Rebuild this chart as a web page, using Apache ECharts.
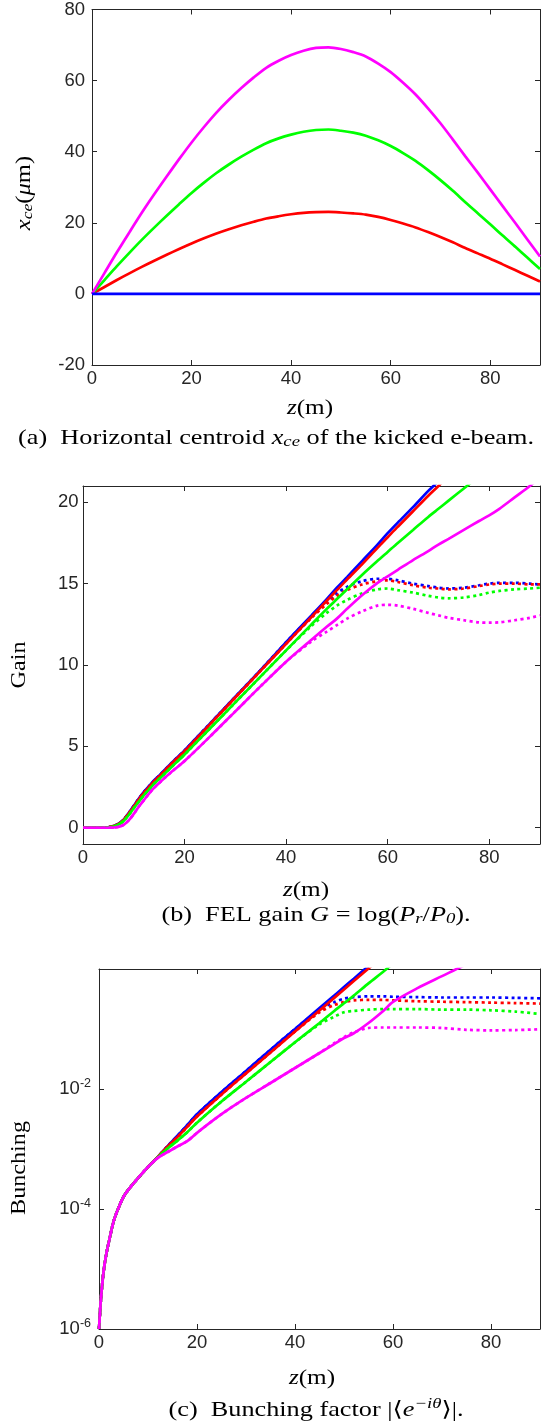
<!DOCTYPE html>
<html><head><meta charset="utf-8">
<script src="https://cdn.jsdelivr.net/npm/echarts@6/dist/echarts.min.js"></script>
<style>html,body{margin:0;padding:0;background:#fff}#c{width:553px;height:1426px}</style>
</head><body><div id="c"></div>
<script>
// ---------- Panel (a): horizontal centroid x_ce (um) ----------
const zX = [0,2.5,5,7.5,10,12.5,15,17.5,20,22.5,25,27.5,30,32.5,35,37.5,40,42.5,45,47.5,50,52.5,55,57.5,60,62.5,65,67.5,70,72.5,75,77.5,80,82.5,85,87.5,90];
const xceBlue    = [0,0,0,0,0,0,0,0,0,0,0,0,0,0,0,0,0,0,0,0,0,0,0,0,0,0,0,0,0,0,0,0,0,0,0,0,0];
const xceRed     = [0,1.95,3.9,5.78,7.6,9.33,11.0,12.63,14.2,15.65,17.0,18.2,19.3,20.3,21.2,21.85,22.4,22.8,23.0,23.05,22.9,22.65,22.3,21.65,20.8,19.8,18.7,17.4,16.0,14.5,12.9,11.4,9.9,8.3,6.7,5.1,3.5];
const xceGreen   = [0,3.9,7.8,11.55,15.2,18.65,22.0,25.25,28.4,31.3,34.0,36.4,38.6,40.6,42.4,43.75,44.8,45.6,46.1,46.25,45.9,45.35,44.5,43.2,41.6,39.6,37.4,34.8,32.0,29.0,25.8,22.7,19.6,16.4,13.3,10.15,7.0];
const xceMagenta = [0,5.85,11.7,17.3,22.8,28.0,33.0,37.9,42.6,46.95,51.0,54.6,57.9,60.9,63.6,65.6,67.2,68.4,69.2,69.35,68.9,68.0,66.8,64.8,62.4,59.4,56.1,52.2,48.0,43.4,38.7,34.1,29.4,24.7,20.0,15.25,10.5];
const xceTicks = [-20,0,20,40,60,80];

// ---------- Panel (b): FEL gain ----------
const zG = [0,2,4,5,6,7,8,9,10,11,12,13,14,15,17.5,20,25,30,35,40,45,48,50,52,55,58,60,62,65,68,70,72,75,78,80,82,85,88,90];
const gainBlue    = [0,0,0,0.03,0.1,0.25,0.5,0.9,1.35,1.8,2.2,2.55,2.9,3.2,4.0,4.75,6.4,8.05,9.7,11.4,13.05,14.05,14.75,15.4,16.4,17.4,18.1,18.75,19.7,20.7,21.3,22.0,22.9,23.9,24.5,25.2,26.1,27.1,27.7];
const gainRed     = [0,0,0,0.03,0.1,0.24,0.48,0.87,1.3,1.75,2.15,2.5,2.85,3.15,3.95,4.7,6.35,8.0,9.65,11.3,12.95,13.95,14.6,15.25,16.2,17.2,17.85,18.5,19.45,20.4,21.0,21.65,22.55,23.5,24.1,24.75,25.7,26.6,27.2];
const gainGreen   = [0,0,0,0.02,0.08,0.2,0.42,0.78,1.2,1.6,2.0,2.35,2.7,3.0,3.75,4.5,6.1,7.7,9.3,10.9,12.5,13.45,14.05,14.65,15.55,16.4,16.95,17.5,18.3,19.1,19.6,20.1,20.85,21.6,22.1,22.6,23.35,24.1,24.6];
const gainMagenta = [0,0,0,0,0.01,0.05,0.18,0.45,0.85,1.3,1.7,2.1,2.45,2.75,3.45,4.1,5.6,7.15,8.7,10.2,11.55,12.35,12.85,13.45,14.3,15.05,15.45,15.85,16.45,17.0,17.4,17.75,18.3,18.85,19.2,19.6,20.3,21.0,21.5];
const gainBlueDot    = [0,0,0,0.03,0.1,0.25,0.5,0.9,1.35,1.8,2.2,2.55,2.9,3.2,4.0,4.75,6.4,8.05,9.7,11.4,13.0,13.9,14.4,14.8,15.15,15.3,15.3,15.2,15.0,14.85,14.75,14.7,14.75,14.9,15.0,15.05,15.05,15.0,14.95];
const gainRedDot     = [0,0,0,0.03,0.1,0.24,0.48,0.87,1.3,1.75,2.15,2.5,2.85,3.15,3.95,4.7,6.35,8.0,9.65,11.3,12.9,13.75,14.25,14.6,14.95,15.15,15.2,15.1,14.9,14.75,14.7,14.65,14.7,14.85,14.95,15.0,15.0,14.95,14.95];
const gainGreenDot   = [0,0,0,0.02,0.08,0.2,0.42,0.78,1.2,1.6,2.0,2.35,2.7,3.0,3.75,4.5,6.1,7.7,9.3,10.9,12.4,13.2,13.65,14.0,14.4,14.65,14.7,14.6,14.45,14.25,14.15,14.1,14.15,14.3,14.45,14.55,14.65,14.7,14.75];
const gainMagentaDot = [0,0,0,0,0.01,0.05,0.18,0.45,0.85,1.3,1.7,2.1,2.45,2.75,3.45,4.1,5.6,7.15,8.7,10.2,11.45,12.05,12.45,12.85,13.3,13.65,13.7,13.65,13.45,13.2,13.05,12.9,12.75,12.62,12.6,12.62,12.75,12.9,13.05];

// ---------- Panel (c): bunching factor ----------
const zB = [0,0.3,0.6,1,1.5,2,3,4,5,6,8,10,12,14,16,18,20,25,30,35,40,45,48,50,52,55,58,60,65,70,75,80,85,90];
const bunchBlue    = [1e-6,2.5e-6,5e-6,1e-5,1.8e-5,2.8e-5,6.3e-5,1.05e-4,1.6e-4,2.1e-4,3.3e-4,5e-4,7.4e-4,1.12e-3,1.66e-3,2.5e-3,3.8e-3,8.9e-3,0.02,0.045,0.1,0.224,0.36,0.5,0.69,1.12,1.8,2.5,5,10,20,40,80,160];
const bunchRed     = [1e-6,2.5e-6,5e-6,1e-5,1.8e-5,2.8e-5,6.3e-5,1.05e-4,1.6e-4,2.1e-4,3.3e-4,5e-4,7.4e-4,1.1e-3,1.58e-3,2.34e-3,3.47e-3,8.1e-3,0.0182,0.0407,0.091,0.204,0.33,0.457,0.63,1.02,1.65,2.3,4.6,9,18,36,72,140];
const bunchGreen   = [1e-6,2.5e-6,5e-6,1e-5,1.8e-5,2.8e-5,6.3e-5,1.05e-4,1.6e-4,2.1e-4,3.3e-4,5e-4,7.3e-4,1.02e-3,1.38e-3,1.9e-3,2.75e-3,6.2e-3,0.0132,0.0282,0.06,0.126,0.2,0.269,0.36,0.575,0.9,1.23,2.6,5.2,10,20,40,80];
const bunchMagenta = [1e-6,2.5e-6,5e-6,1e-5,1.8e-5,2.8e-5,6.3e-5,1.05e-4,1.6e-4,2.1e-4,3.3e-4,5e-4,7.1e-4,8.9e-4,1.1e-3,1.35e-3,1.86e-3,3.8e-3,7.1e-3,0.0126,0.0224,0.0398,0.056,0.0708,0.085,0.126,0.2,0.282,0.479,0.76,1.2,1.8,2.6,3.6];
const bunchBlueDot    = [1e-6,2.5e-6,5e-6,1e-5,1.8e-5,2.8e-5,6.3e-5,1.05e-4,1.6e-4,2.1e-4,3.3e-4,5e-4,7.4e-4,1.12e-3,1.66e-3,2.5e-3,3.8e-3,8.9e-3,0.02,0.045,0.1,0.21,0.28,0.32,0.34,0.35,0.35,0.345,0.34,0.335,0.335,0.335,0.33,0.325];
const bunchRedDot     = [1e-6,2.5e-6,5e-6,1e-5,1.8e-5,2.8e-5,6.3e-5,1.05e-4,1.6e-4,2.1e-4,3.3e-4,5e-4,7.4e-4,1.1e-3,1.58e-3,2.34e-3,3.47e-3,8.1e-3,0.0182,0.0407,0.091,0.19,0.25,0.28,0.3,0.305,0.305,0.3,0.29,0.285,0.28,0.275,0.27,0.265];
const bunchGreenDot   = [1e-6,2.5e-6,5e-6,1e-5,1.8e-5,2.8e-5,6.3e-5,1.05e-4,1.6e-4,2.1e-4,3.3e-4,5e-4,7.3e-4,1.02e-3,1.38e-3,1.9e-3,2.75e-3,6.2e-3,0.0132,0.0282,0.06,0.12,0.16,0.19,0.2,0.21,0.215,0.215,0.215,0.21,0.21,0.205,0.195,0.178];
const bunchMagentaDot = [1e-6,2.5e-6,5e-6,1e-5,1.8e-5,2.8e-5,6.3e-5,1.05e-4,1.6e-4,2.1e-4,3.3e-4,5e-4,7.1e-4,8.9e-4,1.1e-3,1.35e-3,1.86e-3,3.8e-3,7.1e-3,0.0126,0.0224,0.0398,0.058,0.073,0.088,0.104,0.106,0.106,0.106,0.104,0.097,0.095,0.096,0.099];

const BLUE='#0000ff', RED='#ff0000', GREEN='#00ff00', MAG='#ff00ff';
const AX='#262626';
const SANS='"Liberation Sans", Arial, sans-serif';
const SERIF='"Liberation Serif", "DejaVu Serif", serif';

function pairs(xs, ys){ return xs.map((x,i)=>[x, ys[i]]); }

function line(idx, xs, ys, color, dotted, sm){
  return {
    type:'line', xAxisIndex: idx*2, yAxisIndex: idx*2, data: pairs(xs, ys),
    showSymbol:false, symbol:'none', smooth: sm==null ? 0.3 : sm, clip:true, animation:false,
    lineStyle:{color, width:2.7, type: dotted ? [3,3.4] : 'solid', cap:'butt'}
  };
}

const grids = [
  {left:92, width:448, top:6, height:359},
  {left:83, width:457, top:486, height:358},
  {left:99, width:441, top:969, height:360}
];

const xAxes = [], yAxes = [];
const marg = [7, 4.5, 8];
grids.forEach((g,i)=>{
  const xBase = {type:'value', gridIndex:i, min:0, max:90, interval:20,
    splitLine:{show:false},
    axisLine:{show:true, onZero:false, lineStyle:{color:AX, width:1}},
    axisTick:{show:true, inside:true, length:5, lineStyle:{color:AX, width:1}}};
  xAxes.push(Object.assign({}, xBase, {position:'bottom',
    axisLabel:{show:true, showMaxLabel:false, color:AX, fontSize:18.5, fontFamily:SANS, margin:4}}));
  xAxes.push(Object.assign({}, xBase, {position:'top', axisLabel:{show:false}}));
});

const yCommon = {splitLine:{show:false},
  axisLine:{show:true, onZero:false, lineStyle:{color:AX, width:1}},
  axisTick:{show:true, inside:true, length:5, lineStyle:{color:AX, width:1}}};
// a
const yA = Object.assign({}, yCommon, {type:'value', gridIndex:0, min:xceTicks[0], max:xceTicks[xceTicks.length-1], interval:20});
yAxes.push(Object.assign({}, yA, {position:'left', axisLabel:{color:AX, fontSize:18.5, fontFamily:SANS, margin:marg[0]}}));
yAxes.push(Object.assign({}, yA, {position:'right', axisLabel:{show:false}}));
// b
const yB = Object.assign({}, yCommon, {type:'value', gridIndex:1, min:-1, max:21, splitNumber:5});
yAxes.push(Object.assign({}, yB, {position:'left', axisLabel:{color:AX, fontSize:18.5, fontFamily:SANS, margin:marg[1], showMinLabel:false, showMaxLabel:false,
  formatter:(v)=> (v%5===0 ? String(v) : '')}}));
yAxes.push(Object.assign({}, yB, {position:'right', axisLabel:{show:false}}));
// c (log)
const yC = Object.assign({}, yCommon, {type:'log', logBase:100, gridIndex:2, min:1e-6, max:1});
yAxes.push(Object.assign({}, yC, {position:'left', axisLabel:{color:AX, fontFamily:SANS, margin:marg[2], showMaxLabel:false,
  formatter:(v)=>{ const e=Math.round(Math.log10(v)); return '{b|10}{s|' + e + '}'; },
  rich:{b:{fontSize:18.5, fontFamily:SANS, color:AX}, s:{fontSize:12.5, fontFamily:SANS, color:AX, padding:[0,0,11,0]}}}}));
yAxes.push(Object.assign({}, yC, {position:'right', axisLabel:{show:false}}));

const series = [
  line(0, zX, xceRed, RED, false, 0.3), line(0, zX, xceGreen, GREEN, false, 0.3), line(0, zX, xceMagenta, MAG, false, 0.3), line(0, zX, xceBlue, BLUE, false, 0),

  line(1, zG, gainBlue, BLUE), line(1, zG, gainBlueDot, BLUE, true),
  line(1, zG, gainRed, RED), line(1, zG, gainRedDot, RED, true),
  line(1, zG, gainGreen, GREEN), line(1, zG, gainGreenDot, GREEN, true),
  line(1, zG, gainMagenta, MAG), line(1, zG, gainMagentaDot, MAG, true),

  line(2, zB, bunchBlue, BLUE), line(2, zB, bunchBlueDot, BLUE, true),
  line(2, zB, bunchRed, RED), line(2, zB, bunchRedDot, RED, true),
  line(2, zB, bunchGreen, GREEN), line(2, zB, bunchGreenDot, GREEN, true),
  line(2, zB, bunchMagenta, MAG), line(2, zB, bunchMagentaDot, MAG, true)
];

const mathRich = {
  n:{fontFamily:SERIF, fontSize:21, color:'#222'},
  i:{fontFamily:SERIF, fontStyle:'italic', fontSize:21, color:'#222'},
  sub:{fontFamily:SERIF, fontStyle:'italic', fontSize:15, color:'#222', padding:[9,0,0,0]}
};
const capRich = {
  n:{fontFamily:SERIF, fontSize:21, color:'#000'},
  i:{fontFamily:SERIF, fontStyle:'italic', fontSize:21, color:'#000'},
  sub:{fontFamily:SERIF, fontStyle:'italic', fontSize:15, color:'#000', padding:[9,0,0,0]},
  sup:{fontFamily:SERIF, fontStyle:'italic', fontSize:15, color:'#000', padding:[0,0,11,0]}
};
function txt(x, y, text, rich, rot, sx){
  return {type:'text', x, y, rotation: rot||0, scaleX: sx||1, scaleY:1, silent:true,
    style:{text, rich, align:'center', verticalAlign:'middle', textAlign:'center', textVerticalAlign:'middle'}};
}

const graphic = [
  txt(24, 193, '{i|x}{sub|ce}{n|(}{i|μ}{n|m)}', mathRich, Math.PI/2, 1.17),
  txt(310, 408, '{i|z}{n|(m)}', mathRich, 0, 1.2),
  txt(276, 438, '{n|(a)  Horizontal centroid }{i|x}{sub|ce}{n| of the kicked e-beam.}', capRich, 0, 1.25),
  txt(19, 665, '{n|Gain}', mathRich, Math.PI/2, 1.15),
  txt(306, 890, '{i|z}{n|(m)}', mathRich, 0, 1.2),
  txt(316, 915, '{n|(b)  FEL gain }{i|G}{n| = log(}{i|P}{sub|r}{n|/}{i|P}{sub|0}{n|).}', capRich, 0, 1.25),
  txt(19.5, 1168, '{n|Bunching}', mathRich, Math.PI/2, 1.15),
  txt(312, 1378, '{i|z}{n|(m)}', mathRich, 0, 1.2),
  txt(316, 1410, '{n|(c)  Bunching factor |⟨}{i|e}{sup|−iθ}{n|⟩|.}', capRich, 0, 1.25)
];

const chart = echarts.init(document.getElementById('c'), null, {renderer:'canvas'});
chart.setOption({animation:false, backgroundColor:'#fff', grid:grids, xAxis:xAxes, yAxis:yAxes, series, graphic});
</script></body></html>
